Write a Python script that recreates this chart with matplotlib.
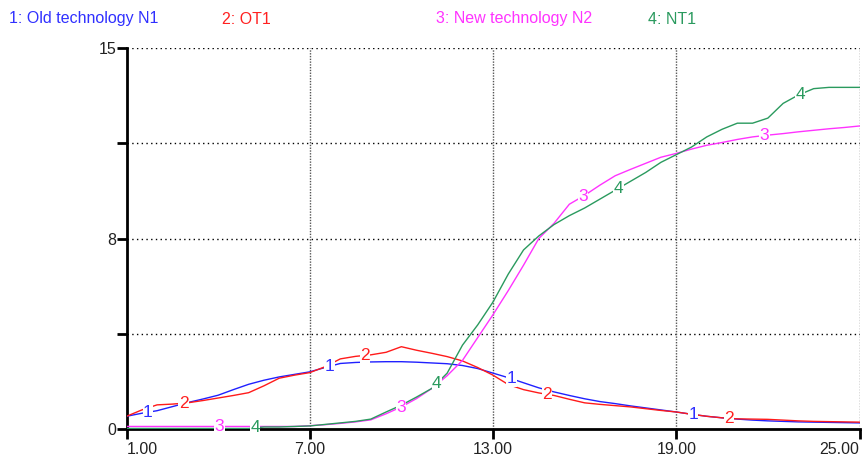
import numpy as np
import matplotlib
matplotlib.use("Agg")
import matplotlib.pyplot as plt

plt.rcParams['font.family'] = ['Liberation Sans', 'DejaVu Sans']

# ---- data (time step 0.5 from 1 to 25) ----
time = np.arange(1.0, 25.01, 0.5)

old_n1 = [0.50, 0.62, 0.72, 0.88, 1.04, 1.18, 1.33, 1.55, 1.76, 1.92,
          2.05, 2.15, 2.25, 2.42, 2.58, 2.62, 2.64, 2.65, 2.65, 2.63,
          2.60, 2.57, 2.50, 2.38, 2.20, 2.02, 1.82, 1.62, 1.46, 1.32,
          1.19, 1.08, 1.00, 0.91, 0.83, 0.75, 0.67, 0.58, 0.50, 0.44,
          0.39, 0.35, 0.32, 0.30, 0.28, 0.27, 0.26, 0.25, 0.24]

ot1 = [0.50, 0.75, 0.95, 0.98, 1.03, 1.12, 1.22, 1.32, 1.43, 1.70,
       2.00, 2.12, 2.22, 2.45, 2.76, 2.86, 2.92, 3.02, 3.24, 3.10,
       2.98, 2.85, 2.68, 2.42, 2.12, 1.75, 1.55, 1.42, 1.32, 1.17,
       1.03, 0.97, 0.92, 0.87, 0.80, 0.73, 0.67, 0.58, 0.50, 0.44,
       0.40, 0.39, 0.38, 0.35, 0.32, 0.30, 0.29, 0.28, 0.27]

new_n2 = [0.10, 0.10, 0.10, 0.10, 0.10, 0.10, 0.10, 0.10, 0.10, 0.10,
          0.10, 0.10, 0.13, 0.17, 0.22, 0.28, 0.36, 0.60, 0.87, 1.20,
          1.60, 2.10, 2.70, 3.60, 4.50, 5.45, 6.45, 7.50, 8.10, 8.85,
          9.20, 9.60, 9.97, 10.22, 10.46, 10.70, 10.85, 11.02, 11.17, 11.28,
          11.40, 11.50, 11.57, 11.63, 11.70, 11.76, 11.82, 11.87, 11.93]

nt1 = [0.02, 0.02, 0.02, 0.02, 0.02, 0.02, 0.02, 0.02, 0.02, 0.08,
       0.08, 0.10, 0.12, 0.18, 0.24, 0.30, 0.39, 0.67, 0.94, 1.26,
       1.60, 2.20, 3.30, 4.10, 5.00, 6.10, 7.05, 7.60, 8.05, 8.40,
       8.70, 9.05, 9.40, 9.75, 10.10, 10.50, 10.80, 11.10, 11.50, 11.80,
       12.04, 12.04, 12.24, 12.82, 13.15, 13.40, 13.45, 13.45, 13.45]

series_names = ["Old technology N1", "OT1", "New technology N2", "NT1"]
series_values = [old_n1, ot1, new_n2, nt1]
series_colors = ["#2020ff", "#ff1a1a", "#ff33ff", "#2a9a5e"]
text_colors = ["#3030ff", "#ff2020", "#ff33ff", "#2a9a5e"]

x_ticks = [1, 7, 13, 19, 25]
x_ticklabels = ["1.00", "7.00", "13.00", "19.00", "25.00"]
y_ticks = [0, 3.75, 7.5, 11.25, 15]
y_ticklabels = ["0", "", "8", "", "15"]

W, H = 863, 457
fig = plt.figure(figsize=(W / 100, H / 100), dpi=100)
ax = fig.add_axes([126.5 / W, 28 / H, 733 / W, 381 / H])
ax.set_xlim(1, 25)
ax.set_ylim(0, 15)

for s in ("top", "right"):
    ax.spines[s].set_visible(False)
for s in ("left", "bottom"):
    ax.spines[s].set_linewidth(2.0)
    ax.spines[s].set_color("black")
    ax.spines[s].set_zorder(2)

ax.set_xticks(x_ticks)
ax.set_xticklabels(x_ticklabels)
ax.set_yticks(y_ticks)
ax.set_yticklabels(y_ticklabels)
ax.tick_params(axis="both", direction="out", length=7, width=2, color="black",
               labelsize=11.5, labelcolor="#222222")
ax.tick_params(axis="x", pad=2)
ax.tick_params(axis="y", pad=0.5)
xl = ax.get_xticklabels()
xl[0].set_horizontalalignment("left")
xl[-1].set_horizontalalignment("right")

# grid lines
for yv in y_ticks[1:]:
    ax.axhline(yv, color="black", lw=1.0, linestyle=(0, (1, 2.4)), zorder=1)
for xv in x_ticks[1:]:
    ax.axvline(xv, color="#555555", lw=1.0, linestyle=(0, (1, 1)), zorder=1)

for i, (vals, col) in enumerate(zip(series_values, series_colors)):
    ax.plot(time, vals, color=col, lw=1.0, zorder=3 + i * 0.1)

# numeric labels on the lines
for i, (vals, col) in enumerate(zip(series_values, text_colors)):
    start = 1.7 + 1.17 * i
    for k in range(4):
        tl = start + 5.95 * k
        yl = float(np.interp(tl, time, vals))
        ax.text(tl, yl, str(i + 1), color=col, fontsize=12.5, ha="center", va="center",
                zorder=5, bbox=dict(facecolor="white", edgecolor="none", pad=0.2))

# legend-like header
leg_x = [9, 222, 436, 648]
for i, (name, col) in enumerate(zip(series_names, text_colors)):
    fig.text(leg_x[i] / W, 1 - 19 / H, f"{i + 1}: {name}", color=col, fontsize=11.5,
             ha="left", va="center")

fig.savefig("out.png", dpi=100)
